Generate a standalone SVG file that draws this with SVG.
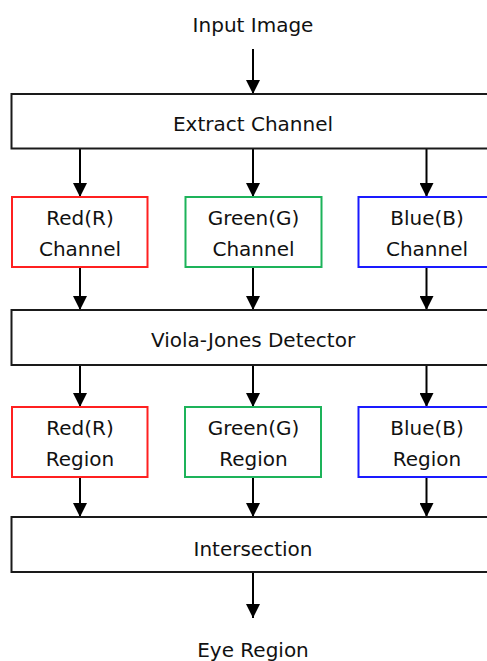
<svg xmlns="http://www.w3.org/2000/svg" width="487" height="661" viewBox="0 0 487 661">
  <defs>
    <marker id="arrow" viewBox="0 0 14 14" refX="14" refY="7" markerWidth="14" markerHeight="14" markerUnits="userSpaceOnUse" orient="auto">
      <path d="M0,0 L14,7 L0,14 Z" fill="#000"/>
    </marker>
  </defs>
  <style>
    text { font-family: "DejaVu Sans", "Noto Sans", sans-serif; font-size: 20px; fill: #111; text-anchor: middle; }
    .wide { fill: #fff; stroke: #1a1a1a; stroke-width: 2; }
    .red { fill: #fff; stroke: #ff2020; stroke-width: 2; }
    .green { fill: #fff; stroke: #1db35a; stroke-width: 2; }
    .blue { fill: #fff; stroke: #1a1aff; stroke-width: 2; }
    .edge { stroke: #000; stroke-width: 2; fill: none; marker-end: url(#arrow); }
  </style>

  <!-- connectors, all running downward -->
  <g id="connectors">
    <line class="edge" x1="253" y1="49" x2="253" y2="94"/>
    <line class="edge" x1="80" y1="149" x2="80" y2="197"/>
    <line class="edge" x1="253" y1="149" x2="253" y2="197"/>
    <line class="edge" x1="426.5" y1="149" x2="426.5" y2="197"/>
    <line class="edge" x1="80" y1="267" x2="80" y2="310"/>
    <line class="edge" x1="253" y1="267" x2="253" y2="310"/>
    <line class="edge" x1="426.5" y1="267" x2="426.5" y2="310"/>
    <line class="edge" x1="80" y1="365" x2="80" y2="407"/>
    <line class="edge" x1="253" y1="365" x2="253" y2="407"/>
    <line class="edge" x1="426.5" y1="365" x2="426.5" y2="407"/>
    <line class="edge" x1="80" y1="477" x2="80" y2="517"/>
    <line class="edge" x1="253" y1="477" x2="253" y2="517"/>
    <line class="edge" x1="426.5" y1="477" x2="426.5" y2="517"/>
    <line class="edge" x1="253" y1="572" x2="253" y2="618"/>
  </g>

  <g id="input-image">
    <text x="253" y="32">Input Image</text>
  </g>

  <g id="extract-channel">
    <rect class="wide" x="11.5" y="94" width="485" height="54.5"/>
    <text x="253" y="131">Extract Channel</text>
  </g>

  <g id="red-channel">
    <rect class="red" x="12" y="197" width="135.5" height="70"/>
    <text x="80" y="225">Red(R)</text>
    <text x="80" y="256">Channel</text>
  </g>
  <g id="green-channel">
    <rect class="green" x="185.5" y="197" width="136" height="70"/>
    <text x="253.5" y="225">Green(G)</text>
    <text x="253.5" y="256">Channel</text>
  </g>
  <g id="blue-channel">
    <rect class="blue" x="358.5" y="197" width="136" height="70"/>
    <text x="427" y="225">Blue(B)</text>
    <text x="427" y="256">Channel</text>
  </g>

  <g id="viola-jones">
    <rect class="wide" x="11.5" y="310" width="485" height="55"/>
    <text x="253" y="347">Viola-Jones Detector</text>
  </g>

  <g id="red-region">
    <rect class="red" x="12" y="407" width="135.5" height="70"/>
    <text x="80" y="435">Red(R)</text>
    <text x="80" y="466">Region</text>
  </g>
  <g id="green-region">
    <rect class="green" x="185" y="407" width="136" height="70"/>
    <text x="253.5" y="435">Green(G)</text>
    <text x="253.5" y="466">Region</text>
  </g>
  <g id="blue-region">
    <rect class="blue" x="358.5" y="407" width="136" height="70"/>
    <text x="427" y="435">Blue(B)</text>
    <text x="427" y="466">Region</text>
  </g>

  <g id="intersection">
    <rect class="wide" x="11.5" y="517" width="485" height="55"/>
    <text x="253" y="556">Intersection</text>
  </g>

  <g id="eye-region">
    <text x="253" y="657">Eye Region</text>
  </g>
</svg>
